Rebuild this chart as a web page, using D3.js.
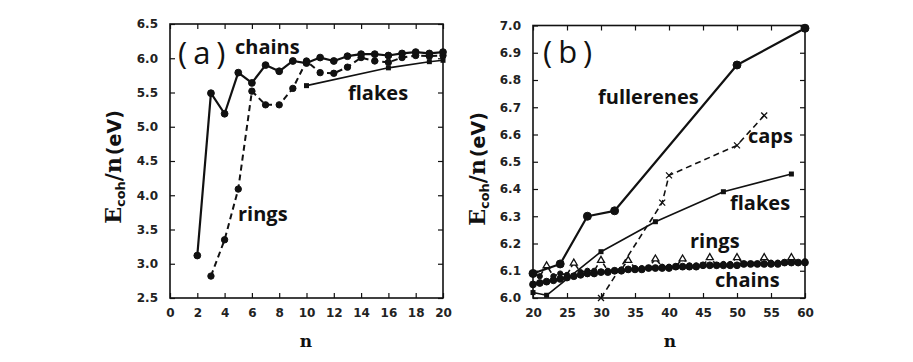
<!DOCTYPE html>
<html><head><meta charset="utf-8">
<script src="https://cdn.jsdelivr.net/npm/d3@7"></script>
<style>
html,body{margin:0;padding:0;background:#fff;}
svg{display:block;}
.tick text{font-family:"DejaVu Sans",sans-serif;font-weight:bold;font-size:12px;fill:#222;}
.lbl{font-family:"Open Sans",sans-serif;font-weight:700;font-size:20px;fill:#111;}
.pan{font-family:"Open Sans",sans-serif;font-weight:400;font-size:31px;fill:#111;letter-spacing:6px;}
</style>
</head><body>
<svg id="c" width="913" height="362"></svg>
<script>
// ---------- Panel (a) data ----------
const aChainsN = [2,3,4,5,6,7,8,9,10,11,12,13,14,15,16,17,18,19,20];
const aChains  = [3.12,5.49,5.19,5.79,5.64,5.90,5.81,5.96,5.93,6.01,5.96,6.03,6.06,6.06,6.04,6.07,6.09,6.07,6.09];
const aRingsN  = [3,4,5,6,7,8,9,10,11,12,13,14,15,16,17,18,19,20];
const aRings   = [2.82,3.35,4.09,5.52,5.32,5.32,5.56,5.96,5.79,5.78,5.87,6.01,5.96,5.94,6.01,6.04,6.03,6.04];
const aFlakesN = [10,16,19,20];
const aFlakes  = [5.60,5.86,5.95,5.97];
const aXTicks  = [0,2,4,6,8,10,12,14,16,18,20];
const aYTicks  = [2.5,3.0,3.5,4.0,4.5,5.0,5.5,6.0,6.5];

// ---------- Panel (b) data ----------
const bFullN   = [20,24,28,32,50,60];
const bFull    = [6.09,6.125,6.30,6.32,6.855,6.99];
const bCapsN   = [30,39,40,50,54];
const bCaps    = [6.00,6.35,6.45,6.56,6.67];
const bFlakesN = [20,22,30,38,48,58];
const bFlakes  = [6.02,6.01,6.17,6.28,6.39,6.455];
const bChainsN = [20,21,22,23,24,25,26,27,28,29,30,31,32,33,34,35,36,37,38,39,40,41,42,43,44,45,46,47,48,49,50,51,52,53,54,55,56,57,58,59,60];
const bChains  = [6.05,6.055,6.06,6.065,6.07,6.075,6.08,6.085,6.09,6.09,6.095,6.095,6.10,6.10,6.105,6.105,6.105,6.11,6.11,6.11,6.11,6.115,6.115,6.115,6.115,6.12,6.12,6.12,6.12,6.12,6.12,6.125,6.125,6.125,6.125,6.125,6.125,6.13,6.13,6.13,6.13];
const bRingsN  = [20,21,22,23,24,25,26,27,28,29,30,31,32,33,34,35,36,37,38,39,40,41,42,43,44,45,46,47,48,49,50,51,52,53,54,55,56,57,58,59,60];
const bRings   = [6.09,6.08,6.12,6.08,6.09,6.085,6.13,6.095,6.10,6.10,6.14,6.10,6.10,6.105,6.14,6.11,6.11,6.11,6.145,6.115,6.115,6.115,6.145,6.12,6.12,6.12,6.15,6.12,6.125,6.125,6.15,6.125,6.125,6.125,6.15,6.13,6.13,6.13,6.15,6.13,6.135];
const bXTicks  = [20,25,30,35,40,45,50,55,60];
const bYTicks  = [6.0,6.1,6.2,6.3,6.4,6.5,6.6,6.7,6.8,6.9,7.0];

const svg = d3.select("#c");
const INK = "#111";

function zip(ns, vs){ return ns.map((n,i)=>[n, vs[i]]); }

function frame(x, y, xt, yt, xfmt, yfmt){
  const [x0,x1] = x.range(), [y0,y1] = y.range();
  const g = svg.append("g");
  g.append("g").attr("transform",`translate(0,${y0})`)
    .call(d3.axisBottom(x).tickValues(xt).tickFormat(xfmt).tickSizeInner(-5).tickSizeOuter(0).tickPadding(10));
  g.append("g").attr("transform",`translate(0,${y1})`)
    .call(d3.axisTop(x).tickValues(xt).tickFormat("").tickSizeInner(-5).tickSizeOuter(0));
  g.append("g").attr("transform",`translate(${x0},0)`)
    .call(d3.axisLeft(y).tickValues(yt).tickFormat(yfmt).tickSizeInner(-5).tickSizeOuter(0).tickPadding(12));
  g.append("g").attr("transform",`translate(${x1},0)`)
    .call(d3.axisRight(y).tickValues(yt).tickFormat("").tickSizeInner(-5).tickSizeOuter(0));
  g.selectAll(".domain").remove();
  g.selectAll(".tick line").attr("stroke",INK).attr("stroke-width",1.2);
  g.append("rect").attr("x",x0).attr("y",y1).attr("width",x1-x0).attr("height",y0-y1)
    .attr("fill","none").attr("stroke",INK).attr("stroke-width",1.6);
}

function line(x, y, pts, w, dash){
  svg.append("path").datum(pts)
    .attr("d", d3.line().x(d=>x(d[0])).y(d=>y(d[1])))
    .attr("fill","none").attr("stroke",INK).attr("stroke-width",w)
    .attr("stroke-dasharray", dash || null).attr("stroke-linejoin","round");
}
function dots(x, y, pts, r, open){
  svg.append("g").selectAll("circle").data(pts).join("circle")
    .attr("cx",d=>x(d[0])).attr("cy",d=>y(d[1])).attr("r",r)
    .attr("fill", open ? "#fff" : INK).attr("stroke",INK).attr("stroke-width",1);
}
function squares(x, y, pts, s){
  svg.append("g").selectAll("rect").data(pts).join("rect")
    .attr("x",d=>x(d[0])-s/2).attr("y",d=>y(d[1])-s/2).attr("width",s).attr("height",s)
    .attr("fill",INK);
}
function crosses(x, y, pts, s){
  const g = svg.append("g");
  pts.forEach(d=>{
    const cx=x(d[0]), cy=y(d[1]);
    g.append("path").attr("d",`M${cx-s},${cy-s}L${cx+s},${cy+s}M${cx-s},${cy+s}L${cx+s},${cy-s}`)
      .attr("stroke",INK).attr("stroke-width",1.3);
  });
}
function triangles(x, y, pts, s){
  svg.append("g").selectAll("path").data(pts).join("path")
    .attr("d", d=>{const cx=x(d[0]), cy=y(d[1]); return `M${cx},${cy-s}L${cx+s},${cy+s*0.7}L${cx-s},${cy+s*0.7}Z`;})
    .attr("fill","#fff").attr("stroke",INK).attr("stroke-width",1.3);
}

function ylabel(cx, cy){
  const t = svg.append("text").attr("transform",`translate(${cx},${cy}) rotate(-90)`)
    .attr("text-anchor","middle").attr("fill",INK).attr("font-weight","bold");
  t.append("tspan").attr("font-family","DejaVu Serif, serif").attr("font-size",22).text("E");
  t.append("tspan").attr("font-family","DejaVu Sans, sans-serif").attr("font-size",13).attr("dy",4).text("coh");
  t.append("tspan").attr("font-family","DejaVu Serif, serif").attr("font-size",22).attr("dy",-4).text("/n");
  t.append("tspan").attr("font-family","DejaVu Sans, sans-serif").attr("font-size",19).attr("dx",2).text("(eV)");
}
function xlabel(cx){
  svg.append("text").attr("x",cx).attr("y",347).attr("text-anchor","middle")
    .attr("font-family","DejaVu Serif, serif").attr("font-weight","bold").attr("font-size",17).attr("fill",INK).text("n");
}

// ---------- Panel (a) ----------
const xa = d3.scaleLinear().domain([0,20]).range([170,443]);
const ya = d3.scaleLinear().domain([2.5,6.5]).range([298,24]);
frame(xa, ya, aXTicks, aYTicks, d3.format("d"), d3.format(".1f"));

const aC = zip(aChainsN, aChains), aR = zip(aRingsN, aRings), aF = zip(aFlakesN, aFlakes);
line(xa, ya, aF, 1.6);
line(xa, ya, aR, 2, "6,4");
line(xa, ya, aC, 2.2);
squares(xa, ya, aF, 5);
dots(xa, ya, aR, 3.2, false);
dots(xa, ya, aC, 3.4, false);

svg.append("text").attr("class","pan").attr("x",178).attr("y",64).text("(a)");
svg.append("text").attr("class","lbl").attr("x",235).attr("y",54).text("chains");
svg.append("text").attr("class","lbl").attr("x",348).attr("y",100).text("flakes");
svg.append("text").attr("class","lbl").attr("x",238).attr("y",221).text("rings");
ylabel(121, 167);
xlabel(306);

// ---------- Panel (b) ----------
const xb = d3.scaleLinear().domain([20,60]).range([533,805]);
const yb = d3.scaleLinear().domain([6.0,7.0]).range([298,25.5]);
frame(xb, yb, bXTicks, bYTicks, d3.format("d"), d3.format(".1f"));

const bFu = zip(bFullN, bFull), bCa = zip(bCapsN, bCaps), bFl = zip(bFlakesN, bFlakes);
const bCh = zip(bChainsN, bChains), bRi = zip(bRingsN, bRings);
line(xb, yb, bCa, 1.6, "6,4");
line(xb, yb, bFl, 1.6);
line(xb, yb, bFu, 2.2);
line(xb, yb, bRi, 1.6, "5,3");
line(xb, yb, bCh, 2.2);
dots(xb, yb, bCh, 3.4, false);
dots(xb, yb, bRi.filter(d=>d[0]%4!==2), 2.6, false);
triangles(xb, yb, bRi.filter(d=>d[0]%4===2), 3.5);
squares(xb, yb, bFl, 5);
crosses(xb, yb, bCa, 3);
dots(xb, yb, bFu, 4, false);

svg.append("text").attr("class","pan").attr("x",543).attr("y",63).text("(b)");
svg.append("text").attr("class","lbl").attr("x",598).attr("y",104).text("fullerenes");
svg.append("text").attr("class","lbl").attr("x",748).attr("y",143).text("caps");
svg.append("text").attr("class","lbl").attr("x",730).attr("y",210).text("flakes");
svg.append("text").attr("class","lbl").attr("x",690).attr("y",248).text("rings");
svg.append("text").attr("class","lbl").attr("x",715).attr("y",287).text("chains");
ylabel(485, 169);
xlabel(670);
</script>
</body></html>
